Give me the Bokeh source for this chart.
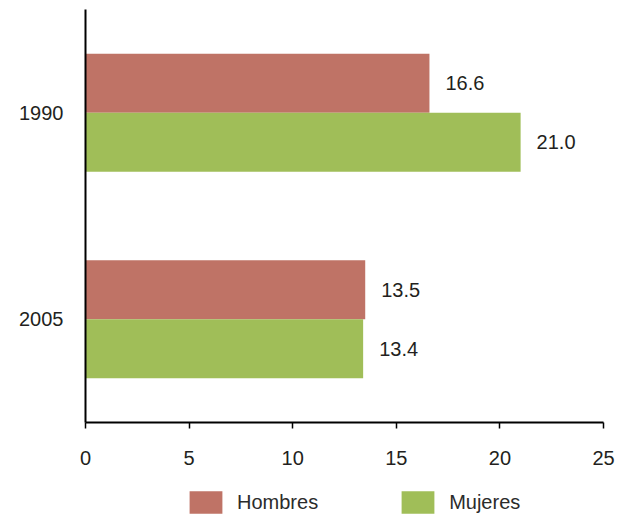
from bokeh.plotting import figure
from bokeh.layouts import column
from bokeh.models import Range1d, FactorRange, Legend, LegendItem, FixedTicker, ColumnDataSource
from bokeh.transform import dodge
from bokeh.core.properties import value
from bokeh.embed import file_html
from bokeh.resources import INLINE

years = ["1990", "2005"]
hombres = [16.6, 13.5]
mujeres = [21.0, 13.4]
x_ticks = [0, 5, 10, 15, 20, 25]
series_names = ["Hombres", "Mujeres"]
colors = ["#BF7366", "#A0BE58"]

FONT = "Liberation Sans"
TXT = "#231F20"

src = ColumnDataSource(dict(
    year=years,
    hombres=hombres,
    mujeres=mujeres,
    h_lab=[f"{v:.1f}" for v in hombres],
    m_lab=[f"{v:.1f}" for v in mujeres],
))

p = figure(width=624, height=474,
           y_range=FactorRange(factors=years[::-1], range_padding=0),
           x_range=Range1d(0, 25),
           output_backend="svg", toolbar_location=None,
           min_border_left=85, min_border_right=21, min_border_top=9,
           min_border_bottom=52)

bh = 0.286
r1 = p.hbar(y=dodge("year", bh / 2, range=p.y_range), right="hombres", left=0,
            height=bh, source=src, fill_color=colors[0], line_color=None)
r2 = p.hbar(y=dodge("year", -bh / 2, range=p.y_range), right="mujeres", left=0,
            height=bh, source=src, fill_color=colors[1], line_color=None)

p.text(x="hombres", y=dodge("year", bh / 2, range=p.y_range), text="h_lab", source=src,
       x_offset=16, text_baseline="middle", text_align="left",
       text_font_size="20px", text_font=value(FONT), text_color=TXT)
p.text(x="mujeres", y=dodge("year", -bh / 2, range=p.y_range), text="m_lab", source=src,
       x_offset=16, text_baseline="middle", text_align="left",
       text_font_size="20px", text_font=value(FONT), text_color=TXT)

p.xgrid.visible = False
p.ygrid.visible = False
p.outline_line_color = None
p.background_fill_color = "white"
p.border_fill_color = "white"

xa = p.xaxis[0]
xa.ticker = FixedTicker(ticks=x_ticks)
xa.major_tick_out = 6
xa.major_tick_in = 0
xa.minor_tick_out = 0
xa.minor_tick_in = 0
xa.axis_line_color = "black"
xa.axis_line_width = 2
xa.major_tick_line_width = 1.5
xa.major_label_standoff = 22
xa.major_label_text_font = FONT
xa.major_label_text_font_size = "20px"
xa.major_label_text_color = TXT

ya = p.yaxis[0]
ya.major_tick_out = 0
ya.major_tick_in = 0
ya.minor_tick_out = 0
ya.axis_line_color = "black"
ya.axis_line_width = 2
ya.major_label_standoff = 22
ya.major_label_text_font = FONT
ya.major_label_text_font_size = "20px"
ya.major_label_text_color = TXT

# Legend strip below the chart (zero-size proxy bars carry the legend swatches)
p2 = figure(width=624, height=40, x_range=Range1d(0, 1), y_range=Range1d(0, 1),
            output_backend="svg", toolbar_location=None,
            x_axis_location=None, y_axis_location=None,
            min_border_left=0, min_border_right=0, min_border_top=0, min_border_bottom=0)
p2.xgrid.visible = False
p2.ygrid.visible = False
p2.outline_line_color = None
p2.border_fill_color = "white"
lr1 = p2.hbar(y=0, right=0, left=0, height=0, source=src,
              fill_color=colors[0], line_color=None)
lr2 = p2.hbar(y=0, right=0, left=0, height=0, source=src,
              fill_color=colors[1], line_color=None)

legend = Legend(items=[LegendItem(label=series_names[0], renderers=[lr1]),
                       LegendItem(label=series_names[1], renderers=[lr2])],
                orientation="horizontal", location=(100, -2),
                glyph_width=41, glyph_height=28, label_standoff=11, spacing=79,
                padding=0, margin=0, border_line_color=None,
                background_fill_alpha=0,
                label_text_font=FONT, label_text_font_size="20px",
                label_text_color="#2B2B2B", label_height=28)
p2.add_layout(legend, "center")

layout = column(p, p2, spacing=0)
open("out.html", "w").write(file_html(layout, INLINE))
